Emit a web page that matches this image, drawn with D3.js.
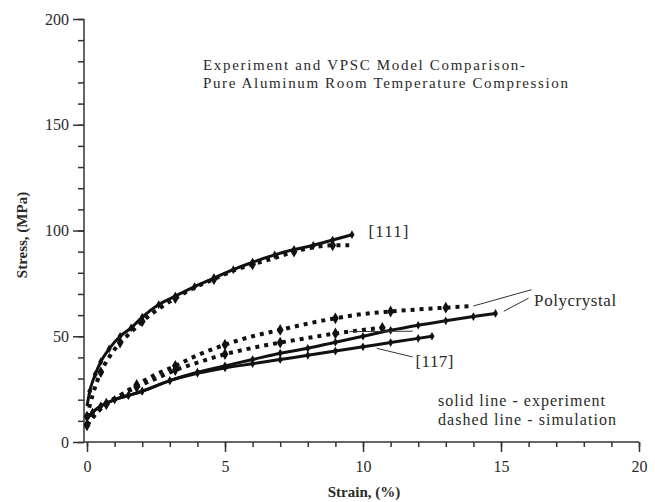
<!DOCTYPE html>
<html>
<head>
<meta charset="utf-8">
<script src="https://cdn.jsdelivr.net/npm/d3@7"></script>
<style>
  body { margin: 0; background: #fff; }
  svg text { font-family: "Liberation Serif", "DejaVu Serif", serif; fill: #2a2a2a; }
</style>
</head>
<body>
<div id="chart"></div>
<script>
// strain (%) / stress (MPa)
const exp111Strain = [0, 0.1, 0.3, 0.5, 0.8, 1.2, 1.6, 2.0, 2.6, 3.2, 3.9, 4.6, 5.3, 6.0, 6.8, 7.5, 8.2, 8.9, 9.6];
const exp111Stress = [17, 24, 32, 38, 44, 50, 54, 59, 65, 69, 73.5, 77.5, 81.5, 85, 88.5, 91, 93, 95.5, 98];
const sim111Strain = [0, 0.2, 0.5, 0.8, 1.2, 1.6, 2.0, 2.6, 3.2, 3.9, 4.6, 5.3, 6.0, 6.8, 7.5, 8.2, 8.9, 9.5];
const sim111Stress = [12, 22, 33, 40, 47, 52, 57, 63, 68, 73, 77, 81, 84, 87, 90, 92, 93, 93];

const expPolyStrain = [0, 0.2, 0.5, 1, 1.5, 2, 3, 4, 5, 6, 7, 8, 9, 10, 11, 12, 13, 14, 14.8];
const expPolyStress = [11, 14, 17, 20, 22, 24, 29, 33, 36, 39, 42, 44.3, 47.2, 50, 52.8, 55.2, 57.3, 59.3, 60.8];
const simPolyStrain = [0, 0.3, 0.7, 1.2, 1.8, 2.5, 3.2, 4, 5, 6, 7, 8, 9, 10, 11, 12, 13, 14];
const simPolyStress = [8, 13, 18, 22, 27, 32, 36, 41, 46, 50, 53, 56, 58.5, 60.5, 61.7, 62.7, 63.5, 64.3];

const exp117Strain = [0, 0.2, 0.5, 1, 1.5, 2, 3, 4, 5, 6, 7, 8, 9, 10, 11, 12, 12.5];
const exp117Stress = [11, 14, 17, 20, 22, 24, 29, 32.5, 35, 37, 39, 41, 43, 45, 47, 49, 50];
const sim117Strain = [0, 0.3, 0.7, 1.2, 1.8, 2.5, 3.2, 4, 5, 6, 7, 8, 9, 10, 10.7];
const sim117Stress = [8, 13, 18, 22, 26, 30, 34, 37.5, 41.5, 44.5, 47, 49.2, 51.3, 53, 54];

const xTicks = [0, 5, 10, 15, 20];
const yTicks = [0, 50, 100, 150, 200];
const titleLines = ["Experiment and VPSC Model Comparison-", "Pure Aluminum Room Temperature Compression"];
const noteLines = ["solid line - experiment", "dashed line - simulation"];

const W = 655, H = 502;
const svg = d3.select("#chart").append("svg").attr("width", W).attr("height", H);

const x = d3.scaleLinear().domain([0, 20]).range([87, 639]);
const y = d3.scaleLinear().domain([0, 200]).range([442, 19]);

const axisColor = "#333";

// x axis
const gx = svg.append("g").attr("transform", `translate(0,${y(0)})`);
gx.call(d3.axisBottom(x).tickValues(d3.range(0, 21, 1)).tickSize(5).tickFormat(""));
gx.call(g => g.selectAll(".domain").remove());
gx.append("g").call(d3.axisBottom(x).tickValues(xTicks).tickSize(10).tickPadding(9))
  .call(g => g.select(".domain").remove())
  .call(g => g.selectAll("text").attr("font-size", 16).attr("fill", "#2a2a2a").attr("font-family", "Liberation Serif"));
gx.selectAll("line").attr("stroke", axisColor).attr("stroke-width", 1.5);
gx.append("line").attr("x1", 84).attr("x2", x(20)).attr("stroke", axisColor).attr("stroke-width", 1.5);

// y axis
const gy = svg.append("g").attr("transform", "translate(84,0)");
gy.call(d3.axisLeft(y).tickValues(d3.range(0, 201, 10)).tickSize(6).tickFormat(""));
gy.call(g => g.selectAll(".domain").remove());
gy.append("g").call(d3.axisLeft(y).tickValues(yTicks).tickSize(11).tickPadding(4))
  .call(g => g.select(".domain").remove())
  .call(g => g.selectAll("text").attr("font-size", 16).attr("fill", "#2a2a2a").attr("font-family", "Liberation Serif"));
gy.selectAll("line").attr("stroke", axisColor).attr("stroke-width", 1.5);
gy.append("line").attr("y1", y(0)).attr("y2", y(200)).attr("stroke", axisColor).attr("stroke-width", 1.5);

// axis titles
svg.append("text").attr("x", 364).attr("y", 497).attr("text-anchor", "middle")
  .attr("font-size", 15).attr("font-weight", "bold").text("Strain, (%)");
svg.append("text").attr("transform", "translate(27,235) rotate(-90)").attr("text-anchor", "middle")
  .attr("font-size", 15).attr("font-weight", "bold").text("Stress, (MPa)");

// title
const titleWidths = [322, 365];
titleLines.forEach((t, i) => {
  svg.append("text").attr("x", 203).attr("y", 70 + i * 18).attr("font-size", 15)
    .attr("textLength", titleWidths[i]).attr("lengthAdjust", "spacing").text(t);
});

// curves
const line = d3.line().x(d => x(d[0])).y(d => y(d[1])).curve(d3.curveMonotoneX);
const zip = (a, b) => a.map((v, i) => [v, b[i]]);
const diamond = d3.symbol().type(d3.symbolDiamond);

function solid(sx, sy) {
  const pts = zip(sx, sy);
  svg.append("path").datum(pts).attr("d", line).attr("fill", "none")
    .attr("stroke", "#111").attr("stroke-width", 3);
  svg.append("g").selectAll("path").data(pts.slice(1)).join("path")
    .attr("d", diamond.size(22)).attr("transform", d => `translate(${x(d[0])},${y(d[1])})`).attr("fill", "#111");
}
function dashed(sx, sy) {
  const pts = zip(sx, sy);
  svg.append("path").datum(pts).attr("d", line).attr("fill", "none")
    .attr("stroke", "#111").attr("stroke-width", 4).attr("stroke-dasharray", "4 5");
  svg.append("g").selectAll("path").data(pts.filter((d, i) => i % 2 === 0)).join("path")
    .attr("d", diamond.size(40)).attr("transform", d => `translate(${x(d[0])},${y(d[1])})`).attr("fill", "#111");
}

solid(exp111Strain, exp111Stress);
dashed(sim111Strain, sim111Stress);
solid(expPolyStrain, expPolyStress);
dashed(simPolyStrain, simPolyStress);
solid(exp117Strain, exp117Stress);
dashed(sim117Strain, sim117Stress);

// curve labels and leaders
const lab = (t, sx, sy, w) => svg.append("text").attr("x", x(sx)).attr("y", y(sy)).attr("font-size", 17)
  .attr("textLength", w).attr("lengthAdjust", "spacing").text(t);
lab("[111]", 10.2, 97, 40);
lab("Polycrystal", 16.2, 64.5, 82);
lab("[117]", 11.9, 35.5, 38);

const leader = (x1, y1, x2, y2) => svg.append("line")
  .attr("x1", x(x1)).attr("y1", y(y1)).attr("x2", x(x2)).attr("y2", y(y2))
  .attr("stroke", "#333").attr("stroke-width", 1);
leader(16.1, 72, 14.0, 64.3);
leader(16.0, 68, 15.1, 61.8);
leader(11.8, 52.4, 9.5, 52.2);
leader(11.8, 40.2, 10.5, 44.3);

// note
const noteWidths = [167, 178];
noteLines.forEach((t, i) => {
  svg.append("text").attr("x", 438).attr("y", 406 + i * 19).attr("font-size", 16)
    .attr("textLength", noteWidths[i]).attr("lengthAdjust", "spacing").text(t);
});
</script>
</body>
</html>
